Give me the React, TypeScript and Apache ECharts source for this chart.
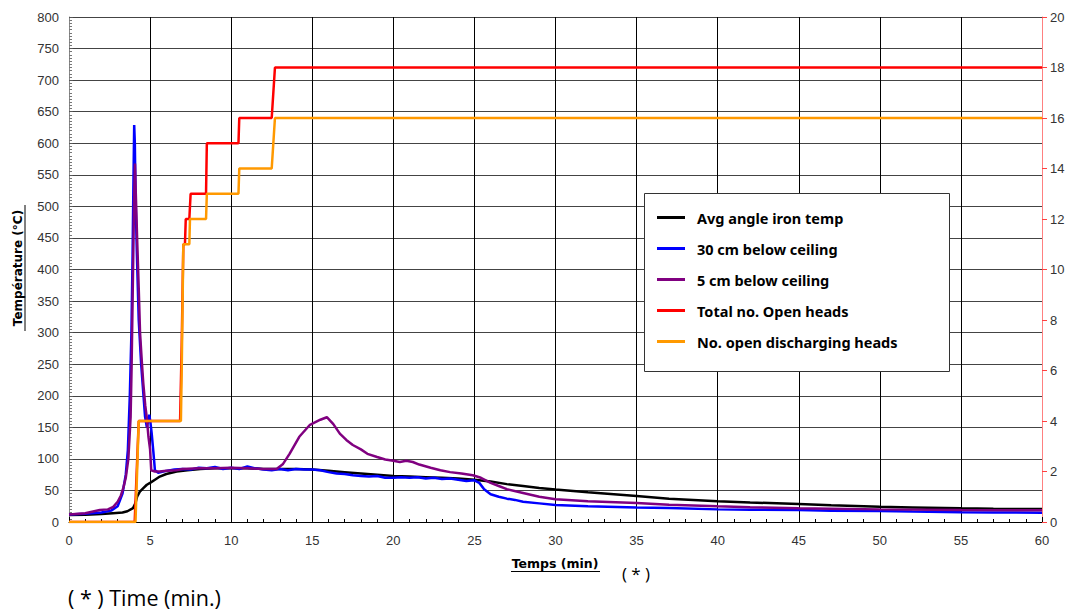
import React, { useEffect, useRef } from "react";
import * as echarts from "echarts";

// time (min), value
const avgAngleIron: [number, number][] = [
  [0, 11], [1, 11.5], [2, 12.5], [2.7, 14], [3.3, 15], [3.6, 17], [3.95, 22], [4.1, 30], [4.2, 40],
  [4.37, 48], [4.6, 54], [4.8, 59], [5, 62], [5.3, 67], [5.6, 72], [6, 76], [6.64, 80], [7.3, 82],
  [8.1, 84], [9, 85], [10, 85], [11, 85], [12, 84], [13, 84], [14, 84], [15, 83], [16, 81], [17, 79],
  [18, 77], [19, 75], [20, 73], [21, 72], [22, 71], [23, 70], [24, 69], [25, 67], [26, 64], [27, 60],
  [28, 57], [29, 54], [30, 51.5], [32, 47], [35, 41], [37, 37], [40, 33], [42, 31], [45, 28.5],
  [47, 26.5], [50, 24], [52, 23], [55, 21.6], [57, 21], [60, 20.5],
];

const below30cm: [number, number][] = [
  [0, 12], [1, 13], [2, 15], [2.6, 18], [3, 25], [3.3, 45], [3.5, 75], [3.63, 114], [3.75, 200],
  [3.85, 300], [3.92, 420], [3.97, 530], [4.02, 629], [4.06, 600], [4.1, 520], [4.18, 430], [4.3, 320],
  [4.45, 250], [4.55, 215], [4.69, 167], [4.8, 150], [4.88, 160], [4.95, 170], [5.02, 158], [5.1, 140],
  [5.2, 112], [5.3, 82], [5.5, 78], [5.8, 80], [6, 81], [6.5, 83], [7, 84], [7.5, 83], [8, 86],
  [8.5, 85], [9, 87], [9.5, 84], [10, 86], [10.5, 84], [11, 88], [11.5, 85], [12, 83], [12.5, 82],
  [13, 84], [13.5, 82], [14, 84], [14.5, 83], [15, 83], [15.5, 82], [16, 79], [16.5, 77], [17, 76],
  [17.5, 74], [18, 73], [18.5, 72], [19, 73], [19.5, 70], [20, 70], [20.5, 71], [21, 70], [21.5, 71],
  [22, 69], [22.5, 70], [23, 68], [23.5, 69], [24, 67], [24.5, 65], [25, 66], [25.3, 62], [25.6, 52],
  [26, 44], [26.5, 40], [27, 37], [27.5, 35], [28, 32], [29, 29.5], [30, 27], [32, 25], [35, 23],
  [37, 22], [40, 20], [42, 19.5], [45, 19], [47, 18], [50, 17.4], [52, 16.5], [55, 15.5], [57, 15],
  [60, 14.8],
];

const below5cm: [number, number][] = [
  [0, 12], [1, 14], [1.9, 19], [2.4, 20], [2.73, 24], [3, 32], [3.2, 42], [3.35, 54], [3.5, 70],
  [3.66, 100], [3.8, 167], [3.86, 246], [3.95, 400], [4.02, 520], [4.07, 568], [4.12, 520], [4.2, 450],
  [4.3, 370], [4.38, 300], [4.5, 250], [4.58, 220], [4.7, 185], [4.79, 167], [4.9, 135], [5.0, 115],
  [5.07, 82], [5.3, 80], [5.6, 80], [6, 81], [6.6, 82], [7, 84], [8, 85], [9, 85], [10, 86], [11, 85],
  [12, 84], [12.8, 84], [13.2, 92], [13.6, 108], [14.2, 135], [14.86, 154], [15.5, 162], [15.9, 166],
  [16.3, 155], [16.7, 140], [17.1, 130], [17.5, 122], [18, 115], [18.4, 108], [19, 103], [19.5, 99],
  [20, 97], [20.4, 95], [20.8, 97], [21.2, 95], [21.6, 91], [22.3, 86], [22.9, 82], [23.5, 79],
  [24.2, 77], [24.9, 74], [25.4, 70], [26, 62], [26.5, 57], [27, 52], [28, 46], [29, 40], [30, 36],
  [32, 33], [35, 30], [37, 27.5], [40, 25], [42, 23.5], [45, 21.6], [47, 21], [50, 20], [55, 19],
  [60, 18.5],
];

const totalOpenHeads: [number, number][] = [
  [0, 0], [4.05, 0], [4.3, 4], [6.85, 4], [6.95, 7], [7.05, 11], [7.15, 11], [7.2, 12], [7.42, 12],
  [7.5, 13], [8.45, 13], [8.5, 15], [10.45, 15], [10.5, 16], [12.5, 16], [12.6, 17], [12.7, 18], [60, 18],
];

const dischargingHeads: [number, number][] = [
  [0, 0], [4.1, 0], [4.3, 4], [6.9, 4], [6.95, 6], [7.05, 11], [7.42, 11], [7.46, 12], [8.45, 12],
  [8.5, 13], [10.45, 13], [10.5, 14], [12.5, 14], [12.7, 16], [60, 16],
];

const seriesNames = [
  "Avg angle iron temp",
  "30 cm below ceiling",
  "5 cm below ceiling",
  "Total no. Open heads",
  "No. open discharging heads",
];
const seriesColors = ["#000000", "#0000ff", "#800080", "#ff0000", "#ff9900"];

export default function App() {
  const ref = useRef<HTMLDivElement>(null);
  useEffect(() => {
    if (!ref.current) return;
    const chart = echarts.init(ref.current, undefined, { renderer: "svg" });
    const datasets = [avgAngleIron, below30cm, below5cm, totalOpenHeads, dischargingHeads];
    const tickFont = { fontFamily: "Liberation Sans", fontSize: 13, color: "#333" };
    chart.setOption({
      animation: false,
      backgroundColor: "#ffffff",
      grid: { left: 69, right: 41, top: 17, bottom: 90, show: false },
      xAxis: {
        type: "value",
        min: 0,
        max: 60,
        interval: 5,
        axisLine: { show: true, lineStyle: { color: "#000", width: 1 } },
        axisTick: { show: true, inside: true, length: 5, lineStyle: { color: "#000" } },
        minorTick: { show: true, splitNumber: 5, length: 3, lineStyle: { color: "#000" } },
        splitLine: { show: true, lineStyle: { color: "#000", width: 1 } },
        axisLabel: { ...tickFont, margin: 12 },
      },
      yAxis: [
        {
          type: "value",
          min: 0,
          max: 800,
          interval: 50,
          axisLine: { show: true, lineStyle: { color: "#888", width: 1 } },
          axisTick: { show: true, inside: true, length: 4, lineStyle: { color: "#555" } },
          minorTick: { show: true, splitNumber: 10, length: 3, lineStyle: { color: "#777" } },
          splitLine: { show: true, lineStyle: { color: "#444", width: 1 } },
          axisLabel: { ...tickFont, margin: 10 },
        },
        {
          type: "value",
          position: "right",
          min: 0,
          max: 20,
          interval: 2,
          axisLine: { show: true, lineStyle: { color: "#ff8080", width: 1 } },
          axisTick: { show: true, inside: false, length: 5, lineStyle: { color: "#ff4040" } },
          splitLine: { show: false },
          axisLabel: { ...tickFont, margin: 8 },
        },
      ],
      legend: {
        orient: "vertical",
        left: 652,
        top: 205,
        itemWidth: 28,
        itemHeight: 3,
        itemGap: 16,
        icon: "rect",
        data: seriesNames,
        textStyle: {
          fontFamily: "Noto Sans",
          fontWeight: "bold",
          fontSize: 14.5,
          color: "#000",
          padding: [0, 0, 0, 7],
        },
      },
      graphic: [
        {
          type: "rect",
          z: 3,
          shape: { x: 644.5, y: 193.5, width: 305, height: 178 },
          style: { fill: "#fff", stroke: "#333", lineWidth: 1 },
        },
        {
          type: "text",
          x: 18,
          y: 268,
          rotation: Math.PI / 2,
          style: {
            text: "Température (°C)",
            font: "bold 12px 'DejaVu Sans'",
            fill: "#000",
            textAlign: "center",
            textVerticalAlign: "middle",
          },
        },
        {
          type: "line",
          shape: { x1: 25, y1: 205, x2: 25, y2: 331 },
          style: { stroke: "#000", lineWidth: 1 },
        },
        {
          type: "text",
          x: 555,
          y: 563,
          style: {
            text: "Temps (min)",
            font: "bold 12.5px 'DejaVu Sans'",
            fill: "#000",
            textAlign: "center",
            textVerticalAlign: "middle",
          },
        },
        {
          type: "line",
          shape: { x1: 511, y1: 571.5, x2: 600, y2: 571.5 },
          style: { stroke: "#000", lineWidth: 1 },
        },
        {
          type: "text",
          x: 636,
          y: 573,
          style: {
            text: "( * )",
            font: "17px 'Open Sans'",
            fill: "#000",
            textAlign: "center",
            textVerticalAlign: "middle",
          },
        },
        {
          type: "text",
          x: 68,
          y: 597,
          style: {
            text: "( * ) Time (min.)",
            font: "21.5px 'Open Sans'",
            fill: "#000",
            textAlign: "left",
            textVerticalAlign: "middle",
          },
        },
      ],
      series: datasets.map((d, i) => ({
        name: seriesNames[i],
        type: "line",
        yAxisIndex: i >= 3 ? 1 : 0,
        data: d,
        showSymbol: false,
        symbol: "none",
        lineStyle: { color: seriesColors[i], width: 2.5 },
        itemStyle: { color: seriesColors[i] },
        z: 2,
      })),
    });
    return () => chart.dispose();
  }, []);
  return (
    <div
      ref={ref}
      style={{ position: "fixed", left: 0, top: 0, width: 1083, height: 612, background: "#fff" }}
    />
  );
}
